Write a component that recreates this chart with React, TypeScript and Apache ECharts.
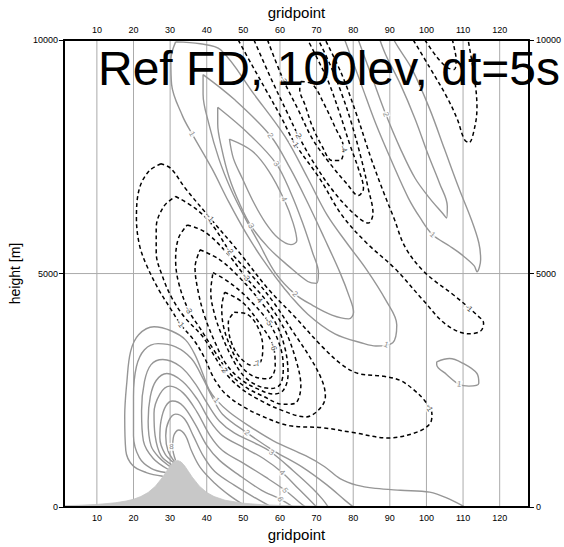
import React, { useEffect, useRef } from "react";
import * as echarts from "echarts";

const FONT = '"Liberation Sans", Arial, Helvetica, sans-serif';

// Axis ticks
const gridpointTicks = [10, 20, 30, 40, 50, 60, 70, 80, 90, 100, 110, 120];
const heightTicks = [0, 5000, 10000];

// Terrain profile (gridpoint, height in m)
const terrainGridpoint = [1, 5, 10, 15, 18, 20, 22, 24, 26, 28, 29, 30, 31, 32, 33, 34, 35, 36, 38, 40, 42, 45, 50, 55, 60, 70, 80, 90, 100, 110, 120, 128];
const terrainHeight = [30, 38, 57, 92, 130, 168, 226, 313, 448, 646, 764, 879, 967, 1000, 967, 879, 764, 646, 448, 313, 226, 147, 83, 52, 36, 20, 13, 9, 6, 5, 4, 3];

// Positive contours of the lee lobe above the mountain (levels 1..8)
const lobePos1 = [[28.0,660],[23.5,740],[19.8,890],[17.9,1210],[17.6,1950],[18.2,2690],[19.2,3330],[21.4,3690],[25.6,3860],[30.4,3770],[34.2,3580],[36.8,3260],[39.0,2840],[40.6,2520],[42.7,2290],[46.2,2030],[51.5,1740],[58.2,1420],[67.0,1100],[72.1,870],[76.4,610],[80.9,470],[86.2,400],[92.9,360],[100.9,320],[106.3,170],[110.5,0]];
const lobePos2 = [[28.8,740],[24.8,830],[21.6,1060],[20.0,1530],[20.0,2370],[20.8,3010],[23.0,3370],[26.7,3500],[31.5,3430],[35.8,3180],[39.0,2750],[41.4,2370],[44.3,1990],[51.0,1590],[58.2,1210],[66.2,850],[72.9,470],[77.7,150],[80.1,0]];
const lobePos3 = [[29.4,810],[25.4,1040],[22.7,1420],[22.2,2060],[23.0,2690],[24.8,3050],[28.0,3160],[32.8,3010],[36.8,2650],[40.3,2200],[43.5,1840],[47.5,1590],[52.9,1380],[57.7,1170],[63.6,780],[68.9,400],[71.6,170],[73.2,0]];
const lobePos4 = [[29.9,870],[27.0,1060],[24.8,1310],[24.0,1840],[24.6,2370],[26.2,2710],[29.1,2860],[33.4,2690],[37.4,2310],[40.9,1840],[44.3,1530],[50.2,1270],[55.5,1040],[60.6,740],[65.2,380],[68.4,130],[70.0,0]];
const lobePos5 = [[30.4,910],[27.5,1100],[25.9,1530],[25.6,2010],[27.2,2420],[29.9,2590],[33.6,2440],[37.4,2030],[40.9,1530],[44.3,1210],[50.2,930],[56.1,640],[61.4,360],[65.2,110],[67.0,0]];
const lobePos6 = [[31.0,950],[28.6,1140],[27.2,1480],[27.5,1840],[28.8,2160],[30.7,2270],[33.6,2160],[36.8,1780],[40.1,1310],[43.5,1000],[48.9,680],[55.0,360],[60.1,170],[63.6,0]];
const lobePos7 = [[31.2,970],[29.4,1210],[28.8,1530],[29.6,1840],[31.5,1990],[33.9,1890],[36.3,1530],[39.0,1100],[42.2,760],[47.5,470],[53.4,190],[57.7,0]];
const lobePos8 = [[31.5,1000],[30.7,1270],[31.0,1530],[32.3,1650],[34.2,1530],[35.8,1210],[38.2,850],[42.2,510],[46.2,250],[50.2,40]];

// Positive band tilting upstream with height (levels 1..4)
const upperPos1 = [[31.5,9960],[38.2,9920],[43.8,9790],[52.9,8840],[61.4,7930],[67.6,7040],[72.9,6250],[78.2,5660],[83.6,5090],[88.9,4430],[91.9,3900],[90.8,3520],[86.2,3450],[83.0,3500],[75.0,3710],[67.6,4130],[61.4,4660],[55.5,5280],[50.7,5870],[45.9,6550],[41.4,7250],[36.0,7990],[33.4,8370],[30.4,9050],[30.2,9580],[31.5,9960]];
const upperPos2 = [[39.0,9260],[47.5,8730],[57.4,7950],[62.8,7250],[67.6,6510],[72.1,5760],[76.4,5020],[79.0,4490],[80.1,4170],[78.8,4030],[74.2,4110],[68.9,4320],[64.1,4560],[58.7,5020],[54.2,5660],[50.2,6230],[46.5,6820],[43.3,7460],[40.6,8200],[39.0,8840],[39.0,9260]];
const upperPos3 = [[43.0,8560],[51.5,7990],[59.0,7350],[63.0,6720],[66.2,6080],[68.9,5450],[70.5,5020],[70.0,4790],[67.6,4830],[62.2,5170],[56.9,5550],[52.1,6020],[48.9,6510],[46.2,7040],[44.1,7670],[43.0,8200],[43.0,8560]];
const upperPos4 = [[46.2,7880],[52.3,7630],[56.9,7200],[61.1,6590],[63.6,6080],[64.6,5700],[63.0,5620],[59.5,5760],[56.1,6080],[52.9,6510],[49.7,7040],[47.3,7460],[46.2,7880]];

// Positive band further downstream, and the small cell at low right
const farPos1 = [[77.7,10000],[82.2,9050],[86.2,8200],[90.8,7350],[95.1,6610],[98.3,6190],[101.7,5830],[106.3,5590],[109.7,5400],[113.0,5170],[113.8,5040],[114.8,5300],[114.3,5660],[112.1,6190],[108.9,6820],[104.9,7670],[100.9,8520],[96.1,9370],[92.4,9830],[91.1,10000]];
const farPos2 = [[81.4,10000],[85.4,9150],[88.9,8410],[92.9,7670],[96.9,7040],[100.9,6610],[104.4,6290],[105.5,6190],[105.7,6440],[103.6,6930],[100.4,7560],[96.9,8310],[92.9,9050],[88.9,9680],[87.3,10000]];
const lowRightPos1 = [[102.8,3110],[106.3,3180],[109.7,3090],[113.8,2860],[114.3,2650],[111.6,2590],[108.9,2630],[105.5,2840],[102.8,3050],[102.8,3110]];

// Negative core (levels -1..-7)
const coreNeg1 = [[27.5,7350],[24.3,7200],[21.6,6820],[20.8,6190],[21.6,5620],[23.5,5190],[27.0,4640],[30.2,4240],[32.8,3920],[36.8,3540],[39.5,3180],[41.4,2840],[43.0,2630],[44.9,2440],[48.9,2200],[55.0,1950],[62.8,1740],[71.6,1700],[80.4,1590],[89.5,1480],[96.9,1590],[100.9,1780],[101.5,1990],[99.6,2270],[96.4,2520],[92.9,2710],[88.4,2800],[81.4,2860],[76.9,3050],[71.6,3430],[64.1,4070],[56.9,4660],[48.9,5450],[40.9,6190],[34.2,6820],[30.2,7250],[27.5,7350]];
const coreNeg2 = [[31.5,6650],[36.8,6400],[41.7,6020],[46.2,5490],[52.3,4960],[58.2,4390],[63.6,3750],[68.4,3180],[71.6,2690],[72.4,2370],[70.8,2100],[67.0,1930],[60.9,2060],[55.0,2270],[49.7,2520],[45.4,2840],[42.2,3220],[39.0,3640],[33.9,4070],[30.4,4490],[28.0,4920],[26.2,5450],[26.2,5980],[28.3,6440],[31.5,6650]];
const coreNeg3 = [[34.7,6040],[39.5,5890],[45.4,5450],[50.7,4920],[56.1,4430],[60.9,3860],[64.1,3220],[65.7,2590],[64.1,2220],[60.9,2200],[55.5,2370],[50.2,2590],[45.9,2900],[42.2,3330],[38.5,3790],[35.0,4220],[32.3,4810],[31.5,5300],[32.3,5760],[34.7,6040]];
const coreNeg4 = [[38.2,5510],[43.5,5300],[48.9,4920],[54.2,4450],[58.7,3960],[61.4,3390],[62.2,2840],[60.9,2500],[58.2,2420],[54.2,2520],[49.7,2710],[45.4,3050],[42.2,3540],[39.5,4070],[37.7,4600],[36.8,5130],[38.2,5510]];
const coreNeg5 = [[41.7,5020],[46.2,4810],[51.5,4450],[56.9,3960],[60.1,3430],[60.9,2970],[60.1,2630],[57.7,2540],[54.2,2590],[50.2,2800],[47.0,3180],[44.3,3640],[42.2,4110],[41.1,4600],[41.7,5020]];
const coreNeg6 = [[44.9,4600],[49.7,4390],[54.2,3960],[58.2,3430],[58.7,3010],[56.9,2750],[53.4,2780],[49.7,2990],[46.7,3390],[44.6,3860],[44.1,4280],[44.9,4600]];
const coreNeg7 = [[47.5,4170],[51.0,4130],[53.9,3860],[55.3,3430],[54.7,3110],[52.6,3030],[48.9,3220],[46.5,3580],[45.9,3960],[47.5,4170]];

// Negative band aloft (levels -1..-4)
const upperNeg1 = [[48.6,10000],[52.3,9470],[56.1,8940],[60.3,8350],[64.1,7780],[70.8,7040],[76.9,6250],[83.6,5660],[91.6,5090],[99.1,4430],[105.5,3900],[111.6,3710],[114.8,3770],[115.6,3940],[113.8,4110],[107.6,4530],[99.6,5020],[94.3,5550],[91.1,6190],[88.4,6720],[84.9,7460],[80.9,8410],[76.9,9260],[72.4,10000]];
const upperNeg2 = [[52.9,10000],[57.7,9150],[62.2,8410],[64.9,7970],[69.4,7350],[75.0,6720],[80.9,6230],[84.1,6080],[85.4,6290],[84.1,6820],[82.2,7460],[79.6,8200],[76.9,8840],[73.7,9470],[70.5,10000]];
const upperNeg3 = [[56.6,10000],[60.9,9150],[64.9,8520],[68.9,7880],[73.7,7350],[78.2,6930],[81.4,6670],[82.8,6820],[81.4,7250],[79.0,7780],[76.4,8410],[73.2,9110],[69.7,9680],[67.6,10000]];
const upperNeg4 = [[65.7,9110],[68.9,9050],[72.1,8620],[75.0,8140],[77.4,7670],[76.4,7420],[74.2,7420],[71.6,7710],[68.9,8140],[66.8,8620],[65.4,8940],[65.7,9110]];

// Negative cell at the top right (levels -1, -2)
const topNeg1 = [[96.4,10000],[100.9,9410],[105.5,8790],[108.4,8310],[110.3,7880],[111.6,7800],[113.2,8140],[113.8,8560],[113.2,9150],[112.1,9680],[111.4,10000]];
const topNeg2 = [[99.6,10000],[102.8,9640],[105.7,9410],[107.6,9370],[108.1,9580],[107.6,9830],[107.1,10000]];

const positiveContours = [lobePos1, lobePos2, lobePos3, lobePos4, lobePos5, lobePos6, lobePos7, lobePos8, upperPos1, upperPos2, upperPos3, upperPos4, farPos1, farPos2, lowRightPos1];
const negativeContours = [coreNeg1, coreNeg2, coreNeg3, coreNeg4, coreNeg5, coreNeg6, coreNeg7, upperNeg1, upperNeg2, upperNeg3, upperNeg4, topNeg1, topNeg2];

// Contour annotations: gridpoint, height, text, angle
const positiveLabels: [number, number, string, number][] = [
  [36.0, 7990, "1", -60], [57.4, 7950, "2", -51], [59.0, 7350, "3", -54], [61.1, 6590, "4", -65],
  [52.1, 6020, "3", -56], [64.1, 4560, "2", -41], [89.0, 3480, "1", -20], [88.9, 8410, "2", -68],
  [101.7, 5830, "1", -43], [108.9, 2630, "1", -10], [42.7, 2290, "1", -48], [51.0, 1590, "2", -35],
  [57.7, 1170, "3", -35], [60.6, 740, "4", -45], [61.4, 360, "5", -55], [60.1, 170, "6", -60],
  [30.4, 1290, "8", 0],
];
const negativeLabels: [number, number, string, number][] = [
  [40.9, 6190, "-1", -50], [46.2, 5490, "-2", -51], [50.7, 4920, "-3", -50], [54.2, 4450, "-4", -50],
  [56.9, 3960, "-5", -56], [58.2, 3430, "-6", -75], [53.6, 3060, "-7", 20], [32.8, 3920, "-1", -53],
  [35.0, 4220, "-3", -60], [44.6, 2950, "-2", -55], [100.7, 2120, "-1", -62], [60.9, 9150, "-3", -66],
  [64.9, 7970, "-2", -60], [64.1, 7780, "-1", -54], [77.4, 7670, "-4", -68], [111.6, 4260, "-1", -41],
];

const POS_COLOR = "#969696";
const NEG_COLOR = "#000000";
const GRID_COLOR = "#ababab";

function buildOption() {
  const series: any[] = [];

  gridpointTicks.forEach((t) => {
    series.push({
      type: "line", data: [[t, heightTicks[0]], [t, heightTicks[2]]], showSymbol: false, silent: true,
      lineStyle: { color: GRID_COLOR, width: 1 }, z: 1,
    });
  });
  series.push({
    type: "line", data: [[1, heightTicks[1]], [128, heightTicks[1]]], showSymbol: false, silent: true,
    lineStyle: { color: GRID_COLOR, width: 1 }, z: 1,
  });

  positiveContours.forEach((c) => {
    series.push({
      type: "line", data: c, showSymbol: false, smooth: 0.35, silent: true,
      lineStyle: { color: POS_COLOR, width: 1.4 }, z: 3,
    });
  });
  negativeContours.forEach((c) => {
    series.push({
      type: "line", data: c, showSymbol: false, smooth: 0.35, silent: true,
      lineStyle: { color: NEG_COLOR, width: 1.5, type: [4, 3] }, z: 3,
    });
  });

  const labelItem = (l: [number, number, string, number], color: string) => ({
    value: [l[0], l[1]],
    label: {
      show: true, position: "inside", formatter: l[2], rotate: l[3], color,
      fontSize: 8, fontFamily: FONT, backgroundColor: "#ffffff", padding: [0, 1],
    },
  });
  series.push({
    type: "scatter", symbolSize: 0, silent: true, z: 4,
    data: [
      ...positiveLabels.map((l) => labelItem(l, "#6e6e6e")),
      ...negativeLabels.map((l) => labelItem(l, "#1a1a1a")),
    ],
  });

  series.push({
    type: "line", data: terrainGridpoint.map((g, i) => [g, terrainHeight[i]]), showSymbol: false, silent: true,
    lineStyle: { color: "#c4c4c4", width: 0.8 }, areaStyle: { color: "#c8c8c8", opacity: 1 }, z: 5,
  });

  const plainNumber = (v: number) => String(v);

  const xAxisBase = {
    type: "value", min: 1, max: 128, z: 10,
    axisLine: { show: true, onZero: false, lineStyle: { color: "#000", width: 2 } },
    axisTick: { show: false },
    axisLabel: { customValues: gridpointTicks, formatter: plainNumber, fontSize: 9, color: "#000", fontFamily: FONT, margin: 6 },
    splitLine: { show: false },
    name: "gridpoint", nameLocation: "middle",
    nameTextStyle: { fontSize: 15, color: "#000", fontFamily: FONT },
  };
  const yAxisBase = {
    type: "value", min: 0, max: 10000, interval: 5000, z: 10,
    axisLine: { show: true, onZero: false, lineStyle: { color: "#000", width: 2 } },
    axisTick: { show: true, inside: false, length: 5, lineStyle: { color: "#000", width: 1 } },
    splitLine: { show: false },
  };

  return {
    animation: false,
    backgroundColor: "#ffffff",
    grid: { left: 55, right: 32, top: 40, bottom: 35, containLabel: false },
    xAxis: [
      { ...xAxisBase, position: "bottom", nameGap: 18 },
      { ...xAxisBase, position: "top", nameGap: 15 },
    ],
    yAxis: [
      {
        ...yAxisBase, position: "left", name: "height [m]", nameLocation: "middle", nameGap: 33, nameRotate: 90,
        nameTextStyle: { fontSize: 14, color: "#000", fontFamily: FONT },
        axisLabel: { formatter: plainNumber, fontSize: 9, color: "#000", fontFamily: FONT, margin: 6 },
      },
      {
        ...yAxisBase, position: "right",
        axisLabel: { formatter: plainNumber, fontSize: 9, color: "#000", fontFamily: FONT, margin: 7 },
      },
    ],
    graphic: [
      {
        type: "text", x: 98, y: 68, z: 100, silent: true,
        style: {
          text: "Ref FD, 100lev, dt=5s", font: `48px ${FONT}`, fill: "#000",
          align: "left", verticalAlign: "middle",
        },
      },
    ],
    series,
  };
}

export default function App() {
  const ref = useRef<HTMLDivElement>(null);
  useEffect(() => {
    if (!ref.current) return;
    const chart = echarts.init(ref.current, undefined, { renderer: "svg" });
    chart.setOption(buildOption() as any);
    return () => chart.dispose();
  }, []);
  return (
    <div
      ref={ref}
      style={{ position: "fixed", left: 0, top: 0, width: 564, height: 547, background: "#fff" }}
    />
  );
}
